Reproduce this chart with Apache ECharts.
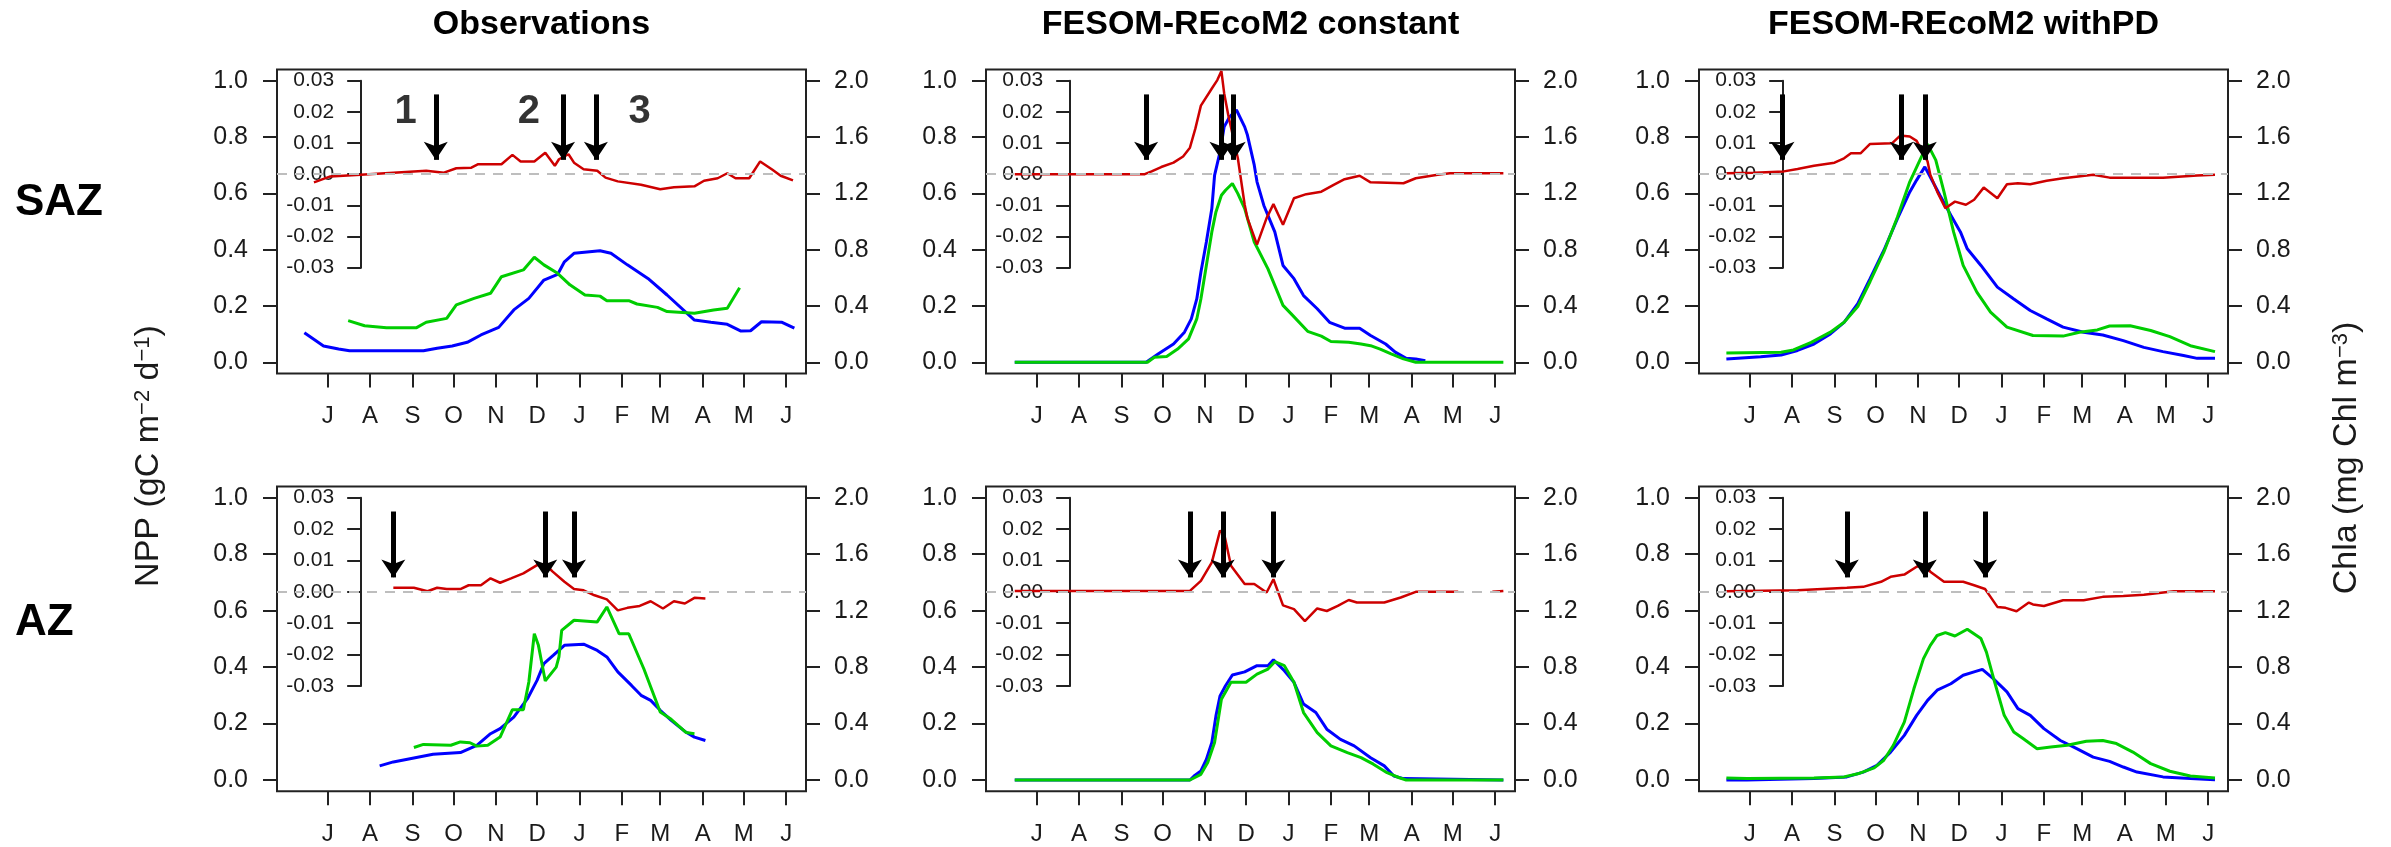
<!DOCTYPE html>
<html><head><meta charset="utf-8">
<script src="https://cdn.jsdelivr.net/npm/echarts@6/dist/echarts.min.js"></script>
<style>html,body{margin:0;padding:0;background:#fff}#c{width:2391px;height:847px}</style>
</head><body><div id="c"></div><script>
// ---------- labels / ticks ----------
const monthLetters = ['J','A','S','O','N','D','J','F','M','A','M','J'];
const monthStartDays = [0,31,62,92,123,153,184,215,243,274,304,335]; // days since 1 July
const panelTitles = ['Observations','FESOM-REcoM2 constant','FESOM-REcoM2 withPD'];
const rowLabels = ['SAZ','AZ'];
const nppTicks = [0,0.2,0.4,0.6,0.8,1.0];
const chlaTicks = [0,0.4,0.8,1.2,1.6,2.0];
const arrowLabelText = ['1','2','3'];
const arrowLabelDays = [57,147,228];

// ---------- SAZ, observations ----------
const saz_obs_npp = [[-17,0.105],[-3,0.058],[8,0.047],[16,0.041],[38,0.041],[70,0.041],[80,0.050],[91,0.058],[102,0.071],[112,0.097],[125,0.124],[136,0.186],[147,0.227],[158,0.292],[168,0.312],[173,0.357],[180,0.387],[199,0.396],[207,0.387],[219,0.346],[234,0.298],[248,0.239],[268,0.150],[280,0.142],[292,0.135],[302,0.111],[309,0.112],[317,0.144],[332,0.142],[341,0.121]];
const saz_obs_chla = [[15,0.296],[27,0.26],[43,0.246],[65,0.246],[72,0.284],[87,0.312],[94,0.408],[107,0.454],[119,0.49],[127,0.608],[143,0.656],[151,0.746],[158,0.692],[168,0.632],[177,0.55],[188,0.478],[199,0.47],[204,0.438],[220,0.438],[226,0.414],[241,0.39],[248,0.36],[268,0.348],[282,0.372],[292,0.384],[301,0.53]];
const saz_obs_rate = [[-10,-0.0026],[2,-0.0007],[24,-0.0002],[48,0.0005],[72,0.0011],[85,0.0005],[94,0.0019],[105,0.0021],[110,0.0032],[127,0.0032],[135,0.0062],[141,0.0041],[151,0.0041],[159,0.0069],[166,0.0027],[169,0.0048],[176,0.0064],[180,0.0037],[187,0.0016],[197,0.0011],[203,-0.0011],[212,-0.0023],[229,-0.0034],[243,-0.0048],[253,-0.0042],[268,-0.0039],[275,-0.0021],[285,-0.0013],[292,0.0003],[298,-0.0013],[308,-0.0013],[316,0.0041],[325,0.0014],[331,-0.0005],[340,-0.002]];
const saz_obs_arrows = [79,172,196];

// ---------- SAZ, FESOM-REcoM2 constant ----------
const saz_const_npp = [[-16,0],[80,0],[89,0.03],[100,0.065],[108,0.107],[113,0.154],[117,0.225],[120,0.32],[124,0.427],[128,0.546],[130,0.664],[134,0.747],[137,0.836],[141,0.872],[146,0.896],[152,0.836],[154,0.807],[159,0.700],[161,0.641],[166,0.557],[174,0.463],[180,0.344],[188,0.297],[195,0.237],[205,0.19],[214,0.142],[225,0.121],[236,0.121],[244,0.095],[255,0.065],[262,0.036],[270,0.014],[277,0.012],[284,0.006]];
const saz_const_chla = [[-16,0],[81,0],[86,0.036],[95,0.042],[103,0.094],[111,0.166],[117,0.308],[120,0.45],[124,0.688],[128,0.926],[131,1.068],[135,1.186],[138,1.222],[143,1.27],[147,1.198],[152,1.092],[159,0.854],[169,0.664],[180,0.404],[186,0.344],[198,0.22],[208,0.186],[215,0.148],[228,0.142],[237,0.13],[244,0.118],[251,0.094],[259,0.06],[268,0.024],[277,0],[341,0]];
const saz_const_rate = [[-16,0],[79,0],[84,0.0009],[91,0.0023],[100,0.0037],[107,0.0057],[112,0.0085],[116,0.0147],[120,0.022],[128,0.0275],[132,0.0302],[135,0.0331],[137,0.026],[140,0.019],[147,0.0051],[152,-0.0098],[154,-0.0141],[161,-0.0226],[168,-0.0141],[173,-0.0096],[180,-0.0162],[188,-0.0077],[197,-0.0064],[208,-0.0056],[217,-0.0034],[225,-0.0016],[236,-0.0005],[244,-0.0026],[268,-0.0029],[277,-0.0013],[293,-0.0002],[302,0.0003],[341,0.0003]];
const saz_const_arrows = [80,135,144];

// ---------- SAZ, FESOM-REcoM2 withPD ----------
const saz_pd_npp = [[-17,0.012],[8,0.020],[23,0.026],[35,0.042],[47,0.065],[59,0.101],[69,0.142],[79,0.208],[88,0.297],[98,0.397],[108,0.510],[117,0.605],[122,0.647],[128,0.694],[132,0.658],[139,0.593],[147,0.522],[154,0.463],[159,0.403],[169,0.344],[181,0.267],[193,0.225],[205,0.184],[217,0.154],[229,0.125],[244,0.107],[258,0.097],[273,0.077],[288,0.053],[302,0.038],[317,0.024],[327,0.014],[340,0.014]];
const saz_pd_chla = [[-17,0.066],[23,0.072],[32,0.088],[45,0.142],[59,0.214],[69,0.284],[79,0.396],[88,0.574],[98,0.782],[108,1.032],[117,1.282],[125,1.448],[130,1.55],[136,1.436],[142,1.21],[149,0.926],[156,0.688],[166,0.498],[176,0.356],[188,0.25],[207,0.19],[229,0.186],[241,0.214],[254,0.23],[263,0.258],[278,0.26],[293,0.226],[307,0.182],[322,0.118],[340,0.076]];
const saz_pd_rate = [[-17,0.0003],[3,0.0005],[25,0.0009],[35,0.0017],[47,0.0027],[62,0.0037],[69,0.0051],[74,0.0067],[81,0.0067],[88,0.0097],[104,0.0099],[110,0.0124],[117,0.0121],[122,0.0107],[130,0.0041],[132,-0.0002],[137,-0.0056],[143,-0.0109],[150,-0.0088],[158,-0.0098],[164,-0.0082],[171,-0.0043],[181,-0.0077],[188,-0.0032],[196,-0.0029],[205,-0.0032],[217,-0.0021],[229,-0.0013],[251,-0.0002],[263,-0.0011],[302,-0.0011],[327,-0.0004],[340,-0.0002]];
const saz_pd_arrows = [24,111,128];

// ---------- AZ, observations ----------
const az_obs_npp = [[38,0.050],[48,0.064],[63,0.078],[77,0.091],[97,0.097],[109,0.123],[119,0.164],[126,0.182],[136,0.223],[146,0.288],[153,0.353],[158,0.412],[165,0.442],[173,0.477],[187,0.481],[197,0.459],[204,0.436],[212,0.383],[222,0.335],[229,0.300],[236,0.282],[243,0.247],[251,0.211],[261,0.172],[268,0.152],[276,0.140]];
const az_obs_chla = [[63,0.23],[70,0.252],[90,0.246],[97,0.27],[104,0.264],[109,0.24],[117,0.246],[126,0.304],[135,0.498],[143,0.498],[147,0.694],[151,1.036],[154,0.954],[159,0.702],[167,0.8],[169,0.872],[171,1.06],[180,1.132],[197,1.12],[204,1.226],[213,1.036],[220,1.036],[231,0.788],[243,0.482],[251,0.43],[262,0.336],[268,0.328]];
const az_obs_rate = [[48,0.0013],[63,0.0013],[73,0.0002],[80,0.0013],[87,0.0009],[97,0.0009],[103,0.0021],[112,0.0021],[119,0.0043],[126,0.0029],[134,0.0043],[143,0.0059],[153,0.0085],[159,0.009],[164,0.0066],[173,0.0032],[180,0.0009],[187,0.0005],[195,-0.0011],[204,-0.0024],[212,-0.0059],[219,-0.0051],[228,-0.0045],[236,-0.003],[245,-0.0053],[253,-0.003],[261,-0.0037],[268,-0.0019],[276,-0.0021]];
const az_obs_arrows = [48,159,180];

// ---------- AZ, FESOM-REcoM2 constant ----------
const az_const_npp = [[-16,0],[112,0],[115,0.014],[120,0.032],[124,0.073],[128,0.133],[131,0.227],[134,0.298],[138,0.334],[143,0.372],[152,0.383],[161,0.405],[169,0.405],[173,0.426],[181,0.387],[188,0.346],[195,0.269],[204,0.239],[212,0.180],[222,0.144],[232,0.121],[244,0.079],[254,0.050],[261,0.014],[268,0.005],[341,0]];
const az_const_chla = [[-16,0],[112,0],[120,0.04],[125,0.124],[130,0.266],[135,0.572],[142,0.692],[153,0.692],[161,0.75],[169,0.786],[174,0.838],[181,0.81],[188,0.692],[195,0.478],[205,0.336],[215,0.242],[227,0.194],[237,0.158],[246,0.112],[256,0.052],[265,0.016],[270,0],[341,0]];
const az_const_rate = [[-16,0.0003],[112,0.0003],[120,0.0035],[128,0.0094],[134,0.0195],[137,0.0184],[142,0.0083],[152,0.0025],[159,0.0025],[168,-0.0002],[173,0.004],[180,-0.0043],[188,-0.0055],[196,-0.0093],[205,-0.0053],[212,-0.0061],[220,-0.0045],[228,-0.0026],[234,-0.0034],[254,-0.0034],[266,-0.0018],[277,0],[308,0],[320,'-'],[333,0],[341,0.0003]];
const az_const_arrows = [112,136,173];

// ---------- AZ, FESOM-REcoM2 withPD ----------
const az_pd_npp = [[-17,0],[-2,0],[47,0.005],[71,0.011],[83,0.028],[93,0.052],[103,0.099],[113,0.158],[122,0.229],[130,0.282],[137,0.318],[147,0.341],[156,0.371],[164,0.383],[170,0.392],[178,0.359],[188,0.312],[196,0.253],[205,0.229],[215,0.182],[227,0.140],[239,0.111],[251,0.081],[263,0.066],[273,0.046],[283,0.028],[302,0.011],[322,0.005],[340,0.001]];
const az_pd_chla = [[-17,0.014],[-2,0.01],[47,0.014],[69,0.022],[79,0.044],[91,0.086],[98,0.14],[105,0.246],[113,0.41],[120,0.646],[127,0.86],[132,0.954],[137,1.024],[143,1.044],[150,1.02],[159,1.068],[169,1.002],[173,0.906],[179,0.694],[186,0.458],[193,0.34],[200,0.292],[210,0.222],[220,0.234],[232,0.246],[246,0.274],[258,0.28],[268,0.258],[280,0.198],[293,0.116],[307,0.062],[322,0.028],[340,0.014]];
const az_pd_rate = [[-17,0.0002],[35,0.0005],[71,0.0013],[83,0.0016],[96,0.0032],[103,0.0048],[113,0.0055],[122,0.008],[128,0.009],[132,0.0064],[142,0.0032],[156,0.0032],[164,0.0021],[172,0.0009],[176,-0.0016],[181,-0.0048],[187,-0.0051],[195,-0.0062],[204,-0.0034],[207,-0.004],[215,-0.0045],[229,-0.0027],[244,-0.0027],[258,-0.0016],[273,-0.0013],[288,-0.0009],[310,0.0002],[340,0.0002]];
const az_pd_arrows = [71,128,172];

// ---------- assemble ----------
const panels = [
  {row:0,col:0,npp:saz_obs_npp,chla:saz_obs_chla,rate:saz_obs_rate,arrows:saz_obs_arrows,numbers:true},
  {row:0,col:1,npp:saz_const_npp,chla:saz_const_chla,rate:saz_const_rate,arrows:saz_const_arrows},
  {row:0,col:2,npp:saz_pd_npp,chla:saz_pd_chla,rate:saz_pd_rate,arrows:saz_pd_arrows},
  {row:1,col:0,npp:az_obs_npp,chla:az_obs_chla,rate:az_obs_rate,arrows:az_obs_arrows},
  {row:1,col:1,npp:az_const_npp,chla:az_const_chla,rate:az_const_rate,arrows:az_const_arrows},
  {row:1,col:2,npp:az_pd_npp,chla:az_pd_chla,rate:az_pd_rate,arrows:az_pd_arrows}
];

const FONT = "'Liberation Sans', Arial, Helvetica, sans-serif";
const TXT = '#1a1a1a';
const colLeft = [277, 986, 1699], boxW = 529;
const yOne = [80.7, 497.7], yZero = [362.3, 780], yInsetBottom = [267.7, 686];
const xMin = -37, xMax = 349.5, insetDay = 24.5;
const arrowTop = 0.0256, arrowTip = 0.0046, numberLevel = 0.0201;
const insetOffset = (insetDay - xMin) / (xMax - xMin) * boxW;

const grid = [], xAxis = [], yAxis = [], series = [], graphic = [];
const tickStyle = {color: '#222', width: 2};

panels.forEach(p => {
  const span = yZero[p.row] - yOne[p.row];
  const boxTop = yOne[p.row] - 0.04 * span, boxBottom = yZero[p.row] + 0.04 * span;
  const g = grid.length;
  grid.push({left: colLeft[p.col], top: boxTop, width: boxW, height: boxBottom - boxTop,
             show: true, borderColor: '#222', borderWidth: 2, backgroundColor: 'transparent', containLabel: false});
  grid.push({left: colLeft[p.col], top: yOne[p.row], width: boxW, height: yInsetBottom[p.row] - yOne[p.row],
             show: false, containLabel: false});
  const xi = xAxis.length;
  xAxis.push({type: 'value', gridIndex: g, min: xMin, max: xMax, position: 'bottom',
    axisLine: {show: false, onZero: false}, splitLine: {show: false},
    axisTick: {show: true, inside: false, length: 14, customValues: monthStartDays, lineStyle: tickStyle},
    axisLabel: {show: true, customValues: monthStartDays, margin: 31, fontSize: 24, fontFamily: FONT, color: TXT,
      formatter: v => monthLetters[monthStartDays.indexOf(Math.round(v))]}});
  xAxis.push({type: 'value', gridIndex: g + 1, min: xMin, max: xMax, show: false, axisLine: {onZero: false}});
  const yi = yAxis.length;
  yAxis.push({type: 'value', gridIndex: g, position: 'left', min: -0.04, max: 1.04,
    axisLine: {show: false, onZero: false}, splitLine: {show: false},
    axisTick: {show: true, inside: false, length: 14, customValues: nppTicks, lineStyle: tickStyle},
    axisLabel: {show: true, customValues: nppTicks, margin: 29, fontSize: 25, fontFamily: FONT, color: TXT,
      formatter: v => v.toFixed(1)}});
  yAxis.push({type: 'value', gridIndex: g, position: 'right', min: -0.08, max: 2.08,
    axisLine: {show: false, onZero: false}, splitLine: {show: false},
    axisTick: {show: true, inside: false, length: 14, customValues: chlaTicks, lineStyle: tickStyle},
    axisLabel: {show: true, customValues: chlaTicks, margin: 28, fontSize: 25, fontFamily: FONT, color: TXT,
      formatter: v => v.toFixed(1)}});
  yAxis.push({type: 'value', gridIndex: g + 1, position: 'left', offset: -insetOffset,
    min: -0.03, max: 0.03, interval: 0.01,
    axisLine: {show: true, onZero: false, lineStyle: tickStyle}, splitLine: {show: false},
    axisTick: {show: true, inside: false, length: 14, lineStyle: tickStyle},
    axisLabel: {show: true, margin: 27, fontSize: 21, fontFamily: FONT, color: TXT,
      formatter: v => v.toFixed(2)}});

  series.push({type: 'line', xAxisIndex: xi, yAxisIndex: yi, data: p.npp, showSymbol: false, symbol: 'none',
    lineStyle: {color: '#0000FF', width: 3}, itemStyle: {color: '#0000FF'}, z: 2, animation: false, silent: true});
  series.push({type: 'line', xAxisIndex: xi, yAxisIndex: yi + 1, data: p.chla, showSymbol: false, symbol: 'none',
    lineStyle: {color: '#00CD00', width: 3}, itemStyle: {color: '#00CD00'}, z: 3, animation: false, silent: true});
  series.push({type: 'line', xAxisIndex: xi + 1, yAxisIndex: yi + 2, data: p.rate, showSymbol: false, symbol: 'none',
    clip: false, connectNulls: false,
    lineStyle: {color: '#CD0000', width: 2.5}, itemStyle: {color: '#CD0000'}, z: 4, animation: false, silent: true,
    markLine: {silent: true, symbol: ['none', 'none'], animation: false, label: {show: false},
      lineStyle: {color: '#BEBEBE', type: [10, 8], width: 2},
      data: [{yAxis: 0}]}});
  series.push({type: 'line', xAxisIndex: xi + 1, yAxisIndex: yi + 2, data: [], showSymbol: false, z: 6,
    animation: false, silent: true,
    markLine: {silent: true, symbol: ['none', 'arrow'], symbolSize: 18, animation: false, label: {show: false},
      lineStyle: {color: '#000', type: 'solid', width: 5},
      itemStyle: {color: '#000'},
      data: p.arrows.map(d => [{coord: [d, arrowTop]}, {coord: [d, arrowTip]}])}});
  if (p.numbers) {
    series.push({type: 'scatter', xAxisIndex: xi + 1, yAxisIndex: yi + 2, symbolSize: 1, clip: false,
      itemStyle: {color: 'rgba(0,0,0,0)'}, animation: false, silent: true, z: 7,
      data: arrowLabelDays.map((d, k) => [d, numberLevel, arrowLabelText[k]]),
      label: {show: true, position: 'inside', formatter: q => q.value[2],
        fontSize: 40, fontWeight: 'bold', fontFamily: FONT, color: '#000'}});
  }
});

panelTitles.forEach((t, c) => {
  graphic.push({type: 'text', x: colLeft[c] + boxW / 2, y: 25, silent: true,
    style: {text: t, font: 'bold 34px ' + FONT, fill: '#000', textAlign: 'center', textVerticalAlign: 'middle',
            align: 'center', verticalAlign: 'middle'}});
});
const rowLabelY = [203, 623];
rowLabels.forEach((t, r) => {
  graphic.push({type: 'text', x: 15, y: rowLabelY[r], silent: true,
    style: {text: t, font: 'bold 44px ' + FONT, fill: '#000', textAlign: 'left', textVerticalAlign: 'middle',
            align: 'left', verticalAlign: 'middle'}});
});
const supRich = {sup: {fontSize: 22, fontFamily: FONT, verticalAlign: 'top', lineHeight: 30, fill: TXT, color: TXT}};
graphic.push({type: 'text', x: 149, y: 456, rotation: Math.PI / 2, silent: true,
  style: {text: 'NPP (gC m{sup|−2} d{sup|−1})', font: '34px ' + FONT, fill: TXT, rich: supRich,
          textAlign: 'center', textVerticalAlign: 'middle', align: 'center', verticalAlign: 'middle'}});
graphic.push({type: 'text', x: 2347, y: 458, rotation: Math.PI / 2, silent: true,
  style: {text: 'Chla (mg Chl m{sup|−3})', font: '34px ' + FONT, fill: TXT, rich: supRich,
          textAlign: 'center', textVerticalAlign: 'middle', align: 'center', verticalAlign: 'middle'}});

const chart = echarts.init(document.getElementById('c'), null, {renderer: 'canvas'});
chart.setOption({backgroundColor: '#fff', animation: false, grid, xAxis, yAxis, series, graphic});
</script></body></html>
